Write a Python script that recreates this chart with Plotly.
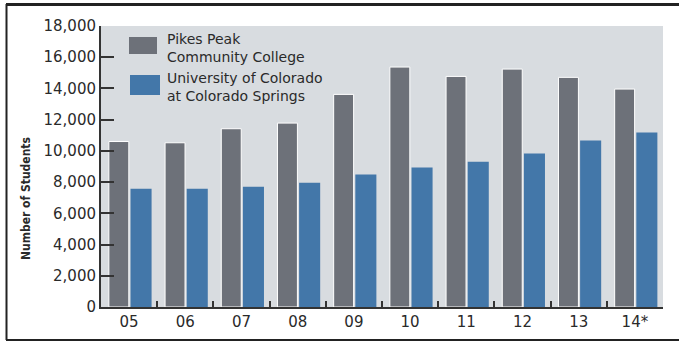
import plotly.graph_objects as go

years = ["05", "06", "07", "08", "09", "10", "11", "12", "13", "14*"]
pikes_peak = [10600, 10520, 11420, 11780, 13620, 15370, 14770, 15240, 14710, 13960]
uccs = [7580, 7580, 7710, 7960, 8480, 8930, 9310, 9830, 10660, 11175]
y_ticks = [0, 2000, 4000, 6000, 8000, 10000, 12000, 14000, 16000, 18000]
y_tick_text = ["0", "2,000", "4,000", "6,000", "8,000", "10,000", "12,000", "14,000", "16,000", "18,000"]
legend_names = ["Pikes Peak<br>Community College", "University of Colorado<br>at Colorado Springs"]

GRAY = "#6d7179"
BLUE = "#4377a9"
FONT = "DejaVu Sans"
TXT = "#2a2a2a"

W, H = 679, 342
L, R, T, B = 101, 16, 26, 35
PW, PH = W - L - R, H - T - B


def px(x):
    return (x - L) / PW


def py(y):
    return (H - B - y) / PH


fig = go.Figure()
fig.add_trace(go.Bar(x=years, y=pikes_peak, name="Pikes Peak Community College",
                     marker=dict(color=GRAY, line=dict(color="white", width=1)),
                     offset=-0.36, width=0.355))
fig.add_trace(go.Bar(x=years, y=uccs, name="University of Colorado at Colorado Springs",
                     marker=dict(color=BLUE, line=dict(width=0)),
                     offset=0.025, width=0.375))

shapes = []
# outer frame
shapes.append(dict(type="line", xref="paper", yref="paper", x0=px(6), x1=px(679), y0=py(4.5), y1=py(4.5),
                   line=dict(color="#222", width=3)))
shapes.append(dict(type="line", xref="paper", yref="paper", x0=px(6.5), x1=px(6.5), y0=py(4), y1=py(340),
                   line=dict(color="#222", width=2)))
shapes.append(dict(type="line", xref="paper", yref="paper", x0=px(6), x1=px(679), y0=py(340), y1=py(340),
                   line=dict(color="#222", width=2)))
# legend swatches
shapes.append(dict(type="rect", xref="paper", yref="paper", x0=px(129), x1=px(157), y0=py(37), y1=py(54),
                   fillcolor=GRAY, line=dict(width=0)))
shapes.append(dict(type="rect", xref="paper", yref="paper", x0=px(130), x1=px(160), y0=py(75), y1=py(95),
                   fillcolor=BLUE, line=dict(width=0)))

annotations = []
for t, yy in zip(legend_names, [48, 87]):
    annotations.append(dict(text=t, xref="paper", yref="paper", x=px(165), y=py(yy),
                            xanchor="left", yanchor="middle", align="left", showarrow=False,
                            font=dict(family=FONT, size=14, color=TXT)))
annotations.append(dict(text="<b>Number of Students</b>", xref="paper", yref="paper", x=px(26), y=py(199),
                        textangle=-90, xanchor="center", yanchor="middle", showarrow=False,
                        font=dict(family="Liberation Sans Narrow, DejaVu Sans Condensed, sans-serif", size=12,
                                  color=TXT)))

fig.update_layout(
    width=W, height=H,
    margin=dict(l=L, r=R, t=T, b=B),
    barmode="overlay",
    showlegend=False,
    plot_bgcolor="#d8dce0",
    paper_bgcolor="white",
    shapes=shapes,
    annotations=annotations,
    xaxis=dict(type="category", showgrid=False, showline=True, linecolor="#333", linewidth=2,
               ticks="inside", tickson="boundaries", ticklen=6, tickcolor="#333", tickwidth=1.5,
               tickfont=dict(family=FONT, size=15, color=TXT), range=[-0.5, 9.5]),
    yaxis=dict(range=[0, 18000], tickvals=y_ticks, ticktext=y_tick_text, showgrid=False, zeroline=False,
               showline=True, linecolor="#333", linewidth=2, ticks="inside", ticklen=13, tickcolor="#333",
               tickwidth=1.5, tickfont=dict(family=FONT, size=15, color=TXT)),
)

fig.write_html("out.html", config={"displayModeBar": False},
               post_script="document.body.style.margin='0';")
